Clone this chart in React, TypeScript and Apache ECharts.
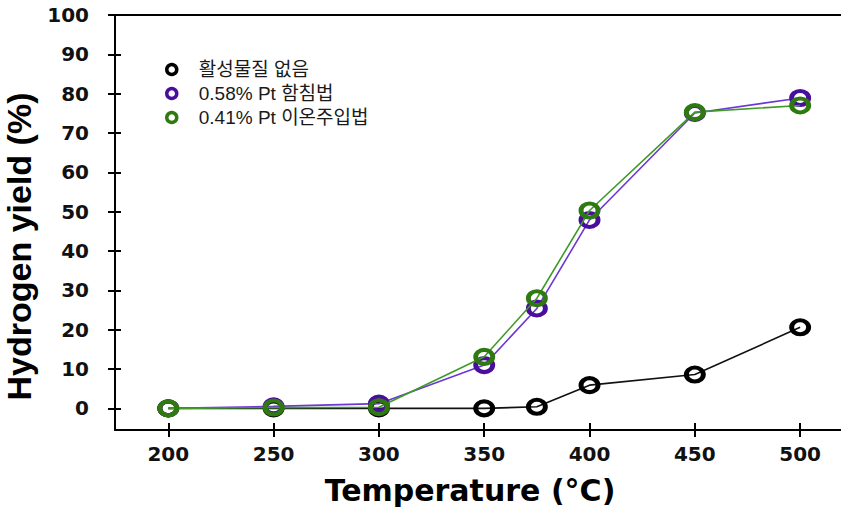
import React, { useEffect, useRef } from "react";
import * as echarts from "echarts";

const temperatures = [200, 250, 300, 350, 375, 400, 450, 500];
const noCatalyst = [0, 0, 0, 0, 0.4, 5.9, 8.6, 20.6];
const ptImpregnation = [0, 0.5, 1.2, 11, 25.4, 47.9, 75.1, 78.9];
const ptIonImplant = [0, 0.2, 0.3, 13.1, 28, 50.3, 75.3, 77];
const seriesNames = ["활성물질 없음", "0.58% Pt 함침법", "0.41% Pt 이온주입법"];
const xTicks = [200, 250, 300, 350, 400, 450, 500];
const yTicks = [0, 10, 20, 30, 40, 50, 60, 70, 80, 90, 100];
const xTitle = "Temperature (°C)";
const yTitle = "Hydrogen yield (%)";

const markerColors = ["#000000", "#4a0e9c", "#2f7a10"];
const lineColors = ["#111111", "#6d36d6", "#3f9a28"];
const ring = "path://M0,8a10,8 0 1,0 20,0a10,8 0 1,0 -20,0z";

export default function App() {
  const ref = useRef<HTMLDivElement>(null);
  useEffect(() => {
    if (!ref.current) return;
    const chart = echarts.init(ref.current, undefined, { renderer: "svg" });
    const seriesData = [noCatalyst, ptImpregnation, ptIonImplant];
    const tickFont = {
      fontFamily: "DejaVu Sans",
      fontWeight: "bold" as const,
      fontSize: 20,
      color: "#111",
    };
    const xBase = {
      type: "value",
      min: 174.7,
      max: 519.4,
      splitLine: { show: false },
    };
    const yBase = {
      type: "value",
      position: "left",
      min: -5.5,
      max: 100,
      splitLine: { show: false },
    };
    chart.setOption({
      animation: false,
      backgroundColor: "#ffffff",
      grid: {
        left: 115,
        right: 0,
        top: 15,
        bottom: 77,
        containLabel: false,
        outerBoundsMode: "none",
      },
      legend: {
        orient: "vertical",
        left: 160,
        top: 54,
        itemWidth: 44,
        itemHeight: 10,
        itemGap: 3,
        icon: "circle",
        textStyle: {
          fontFamily: "Liberation Sans, Noto Sans CJK KR",
          fontSize: 19,
          lineHeight: 21,
          color: "#1a1a1a",
        },
        data: seriesNames.map((n, i) => ({
          name: n,
          itemStyle: {
            color: "rgba(0,0,0,0)",
            borderColor: markerColors[i],
            borderWidth: 3.5,
          },
        })),
      },
      xAxis: [
        {
          ...xBase,
          position: "bottom",
          axisLine: { show: true, onZero: false, lineStyle: { color: "#000", width: 2 } },
          axisTick: {
            show: true,
            customValues: xTicks,
            length: 7,
            lineStyle: { color: "#000", width: 2 },
          },
          axisLabel: { customValues: xTicks, margin: 14, ...tickFont },
          name: xTitle,
          nameLocation: "middle",
          nameGap: 45,
          nameTextStyle: {
            fontFamily: "DejaVu Sans",
            fontWeight: "bold",
            fontSize: 30,
            color: "#000",
            padding: [0, 16, 0, 0],
          },
        },
        {
          ...xBase,
          position: "bottom",
          axisLine: { show: false, onZero: false },
          axisTick: {
            show: true,
            inside: true,
            customValues: xTicks,
            length: 7,
            lineStyle: { color: "#000", width: 2 },
          },
          axisLabel: { show: false },
        },
        {
          ...xBase,
          position: "top",
          axisLine: { show: true, onZero: false, lineStyle: { color: "#000", width: 2 } },
          axisTick: { show: false },
          axisLabel: { show: false },
        },
      ],
      yAxis: [
        {
          ...yBase,
          axisLine: { show: true, onZero: false, lineStyle: { color: "#000", width: 2 } },
          axisTick: {
            show: true,
            customValues: yTicks,
            length: 7,
            lineStyle: { color: "#000", width: 2 },
          },
          axisLabel: { customValues: yTicks, margin: 26, ...tickFont },
          name: yTitle,
          nameLocation: "middle",
          nameRotate: 90,
          nameGap: 48,
          nameTextStyle: {
            fontFamily: "Liberation Sans",
            fontWeight: "bold",
            fontSize: 34,
            color: "#000",
            padding: [0, 48, 0, 0],
          },
        },
        {
          ...yBase,
          axisLine: { show: false, onZero: false },
          axisTick: {
            show: true,
            inside: true,
            customValues: yTicks,
            length: 6,
            lineStyle: { color: "#000", width: 2 },
          },
          axisLabel: { show: false },
        },
      ],
      series: seriesNames.map((name, i) => ({
        name,
        type: "line",
        xAxisIndex: 0,
        yAxisIndex: 0,
        data: temperatures.map((t, k) => [t, seriesData[i][k]]),
        symbol: ring,
        symbolSize: [17, 14],
        showAllSymbol: true,
        lineStyle: { color: lineColors[i], width: 1.6 },
        itemStyle: {
          color: "rgba(0,0,0,0)",
          borderColor: markerColors[i],
          borderWidth: 4.5,
        },
        z: 2 + i,
      })),
    });
    return () => chart.dispose();
  }, []);
  return (
    <div
      ref={ref}
      style={{ position: "fixed", left: 0, top: 0, width: 841, height: 507 }}
    />
  );
}
